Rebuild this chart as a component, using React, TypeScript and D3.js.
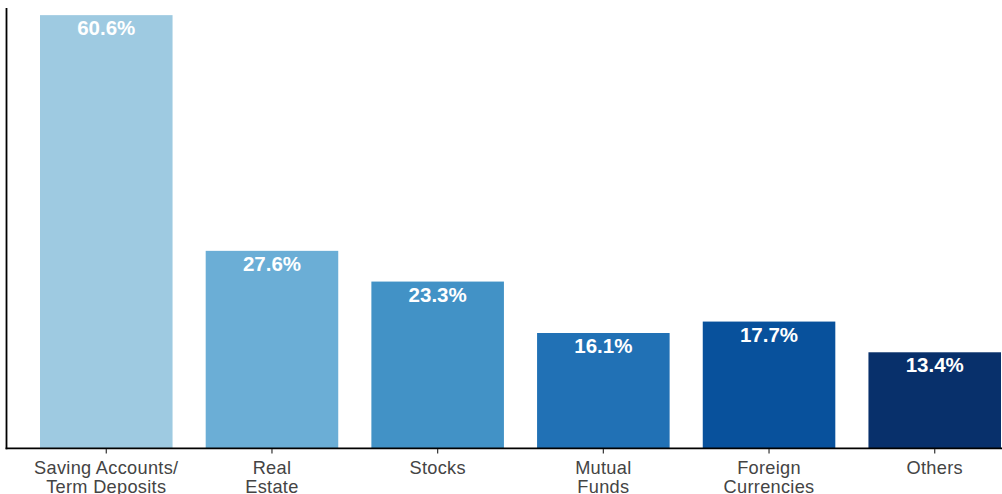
import React from "react";
import * as d3 from "d3";

const categories = ["Saving Accounts/\nTerm Deposits", "Real\nEstate", "Stocks", "Mutual\nFunds", "Foreign\nCurrencies", "Others"];
const values = [60.6, 27.6, 23.3, 16.1, 17.7, 13.4];
const colors = ["#9ecae1", "#6baed6", "#4292c6", "#2171b5", "#08519c", "#08306b"];

const W = 1002;
const H = 494;

export default function App() {
  const x = d3.scaleBand<number>().domain(d3.range(categories.length)).range([40, 1001]).paddingInner(0.2).paddingOuter(0);
  const y = d3.scaleLinear().domain([0, 61.6]).range([448, 8]);
  const font = "'Liberation Sans', Arial, sans-serif";
  return (
    <svg width={W} height={H} style={{ position: "absolute", left: 0, top: 0 }}>
      <rect width={W} height={H} fill="#fff" />
      {values.map((v, i) => (
        <g key={i}>
          <rect x={x(i)!} y={y(v)} width={x.bandwidth()} height={y(0) - y(v)} fill={colors[i]} />
          <text x={x(i)! + x.bandwidth() / 2} y={y(v) + 20} textAnchor="middle" fill="#fff" fontFamily={font} fontWeight="bold" fontSize={20.5}>
            {v.toFixed(1) + "%"}
          </text>
        </g>
      ))}
      <line x1={6.5} x2={6.5} y1={8} y2={449.3} stroke="#000" strokeWidth={1.8} />
      <line x1={5.6} x2={W} y1={448.4} y2={448.4} stroke="#000" strokeWidth={1.8} />
      {categories.map((c, i) => {
        const cx = x(i)! + x.bandwidth() / 2;
        return (
          <g key={i}>
            <line x1={cx} x2={cx} y1={449} y2={453.5} stroke="#333" strokeWidth={1.2} />
            <text x={cx} y={474} textAnchor="middle" fill="#444" fontFamily={font} fontSize={18.2} letterSpacing={0.3}>
              {c.split("\n").map((l, j) => (
                <tspan key={j} x={cx} dy={j === 0 ? 0 : 18.5}>{l}</tspan>
              ))}
            </text>
          </g>
        );
      })}
    </svg>
  );
}
